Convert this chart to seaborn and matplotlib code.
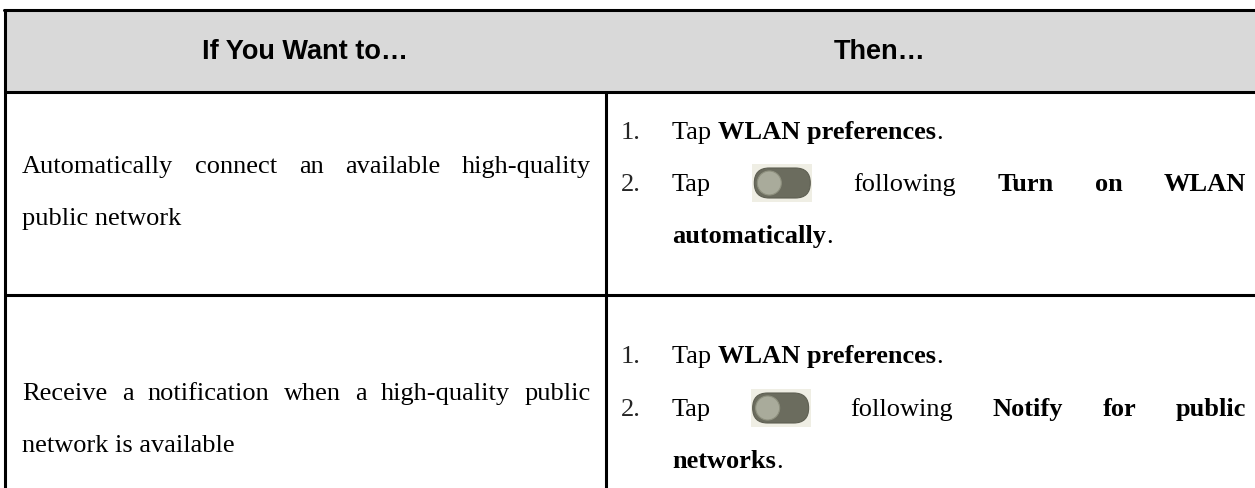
import matplotlib
matplotlib.use("Agg")
import matplotlib.pyplot as plt
from matplotlib.patches import Rectangle, FancyBboxPatch, Circle
import seaborn as sns

sns.set_theme(style="white")
plt.rcParams["font.family"] = ["Liberation Serif", "DejaVu Serif"]

# ── table content ──────────────────────────────────────────────
HEADERS = ["If You Want to…", "Then…"]
GOALS = [
    ["Automatically connect an available high-quality", "public network"],
    ["Receive a notification when a high-quality public", "network is available"],
]
FIRST_STEP = ["WLAN preferences", "WLAN preferences"]
TOGGLE_TARGET = [["Turn on WLAN", "automatically"], ["Notify for public", "networks"]]

# ── layout (pixels, y grows downwards) ────────────────────────
W, H = 1255, 488
LEFT, TOP, RIGHT = 5, 10, 1255
HEAD_BOTTOM = 92
ROW_SPLIT = 295
COL_SPLIT = 606
HEAD_X = [305, 880]
GOAL_X = (22, 591)
NUM_X, STEP_X, STEP_RIGHT = 621, 672, 1246
GOAL_BASE = [[173, 225], [400, 452]]
STEP_BASE = [[139, 191, 243], [363, 416, 468]]

SERIF, SANS = "Liberation Serif", "Liberation Sans"
BODY, HEAD = 19, 19.5
TOGGLE_W, TOGGLE_H = 60, 38
LW = 2.2

fig = plt.figure(figsize=(W / 100, H / 100), dpi=100)
ax = fig.add_axes([0, 0, 1, 1])
ax.set_xlim(0, W)
ax.set_ylim(H, 0)
ax.axis("off")
renderer = fig.canvas.get_renderer()


def text_width(s, weight="normal"):
    t = ax.text(0, 0, s, fontsize=BODY, family=SERIF, weight=weight)
    w = t.get_window_extent(renderer).width
    t.remove()
    return w


def draw_runs(x, y, runs):
    for s, weight in runs:
        ax.text(x, y, s, fontsize=BODY, family=SERIF, weight=weight,
                va="baseline", ha="left", color="black")
        x += text_width(s, weight)
    return x


def draw_toggle(x, y):
    # switch icon: light tile, dark pill, pale knob on the left
    cy = y - 8
    ax.add_patch(Rectangle((x, cy - TOGGLE_H / 2), TOGGLE_W, TOGGLE_H,
                           color="#efeee4", lw=0))
    ph = TOGGLE_H - 8
    ax.add_patch(FancyBboxPatch((x + 2, cy - ph / 2), TOGGLE_W - 4, ph,
                                boxstyle=f"round,pad=0,rounding_size={ph / 2}",
                                fc="#6b6c5e", ec="#5e5f52", lw=0.8))
    ax.add_patch(Circle((x + 2 + ph / 2, cy), ph / 2 - 3,
                        fc="#a9ab9b", ec="#8f917f", lw=0.8))


def draw_justified(x0, x1, y, items):
    widths = [TOGGLE_W if it is None else text_width(it[0], it[1]) for it in items]
    gap = (x1 - x0 - sum(widths)) / (len(items) - 1)
    x = x0
    for it, w in zip(items, widths):
        if it is None:
            draw_toggle(x, y)
        else:
            ax.text(x, y, it[0], fontsize=BODY, family=SERIF, weight=it[1],
                    va="baseline", ha="left", color="black")
        x += w + gap


# ── header ──
ax.add_patch(Rectangle((LEFT, TOP), RIGHT - LEFT, HEAD_BOTTOM - TOP,
                       color="#d9d9d9", lw=0))
for label, hx in zip(HEADERS, HEAD_X):
    ax.text(hx, (TOP + HEAD_BOTTOM) / 2 + 1, label, fontsize=HEAD, family=SANS,
            weight="bold", ha="center", va="center", color="black")

# ── rows ──
for goal, gbase, first, target, sbase in zip(GOALS, GOAL_BASE, FIRST_STEP,
                                             TOGGLE_TARGET, STEP_BASE):
    # left cell: justified first line, plain last line
    draw_justified(GOAL_X[0], GOAL_X[1], gbase[0],
                   [(w, "normal") for w in goal[0].split()])
    draw_runs(GOAL_X[0], gbase[1], [(goal[1], "normal")])

    # right cell: numbered steps
    ax.text(NUM_X, sbase[0], "1.", fontsize=BODY, family=SERIF, va="baseline")
    draw_runs(STEP_X, sbase[0], [("Tap ", "normal"), (first, "bold"), (".", "normal")])
    ax.text(NUM_X, sbase[1], "2.", fontsize=BODY, family=SERIF, va="baseline")
    items = [("Tap", "normal"), None, ("following", "normal")]
    items += [(w, "bold") for w in target[0].split()]
    draw_justified(STEP_X, STEP_RIGHT, sbase[1], items)
    draw_runs(STEP_X, sbase[2], [(target[1], "bold"), (".", "normal")])

# ── grid lines ──
ax.plot([LEFT - 1.5, RIGHT], [TOP, TOP], color="black", lw=LW)
ax.plot([LEFT, RIGHT], [HEAD_BOTTOM, HEAD_BOTTOM], color="black", lw=LW)
ax.plot([LEFT, RIGHT], [ROW_SPLIT, ROW_SPLIT], color="black", lw=LW)
ax.plot([LEFT, LEFT], [TOP, H], color="black", lw=LW)
ax.plot([COL_SPLIT, COL_SPLIT], [HEAD_BOTTOM, H], color="black", lw=LW)

fig.savefig("out.png", dpi=100)
